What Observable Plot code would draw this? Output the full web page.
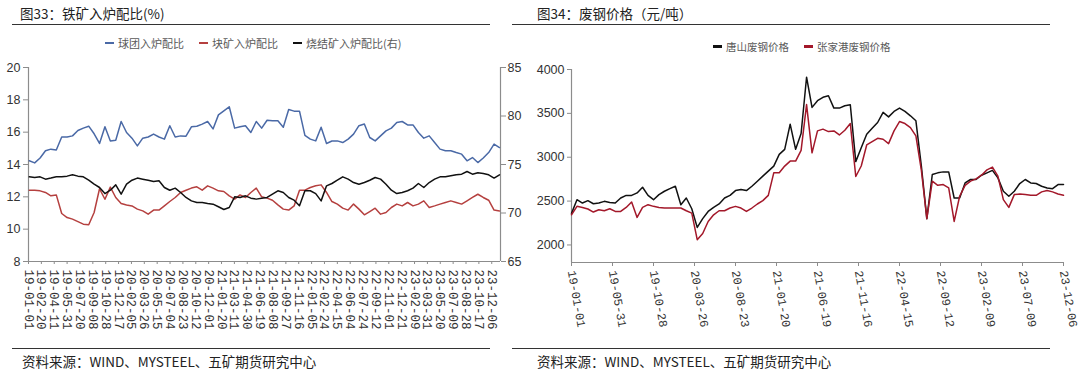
<!DOCTYPE html>
<html>
<head>
<meta charset="utf-8">
<script src="https://cdn.jsdelivr.net/npm/d3@7"></script>
<script src="https://cdn.jsdelivr.net/npm/@observablehq/plot@0.6"></script>
<style>
  body { margin: 0; background: #fff; }
  #root { position: relative; width: 1080px; height: 378px; overflow: hidden; font-family: "Noto Sans CJK SC", sans-serif; }
  .title { position: absolute; top: 3px; font-size: 13.5px; color: #222; white-space: nowrap; }
  .hline { position: absolute; height: 0; border-top: 1px solid #333; }
  .footer { position: absolute; top: 351px; font-size: 13.5px; color: #222; white-space: nowrap; }
  .legend { position: absolute; display: flex; align-items: center; color: #595959; white-space: nowrap; }
  .legend .item { display: flex; align-items: center; }
  .legend .sw { display: inline-block; width: 9px; height: 2.5px; margin-right: 4px; }
  .chart { position: absolute; top: 50px; }
</style>
</head>
<body>
<div id="root">
  <div class="title" style="left:20px">图33：铁矿入炉配比(%)</div>
  <div class="hline" style="left:12px;width:478px;top:24px"></div>
  <div class="title" style="left:537px">图34：废钢价格（元/吨）</div>
  <div class="hline" style="left:512px;width:538px;top:24px"></div>
  <div id="legendL" class="legend" style="left:105px;top:35px;font-size:11px"></div>
  <div id="legendR" class="legend" style="left:713px;top:39px;font-size:10.5px"></div>
  <div id="chartL" class="chart" style="left:0px"></div>
  <div id="chartR" class="chart" style="left:540px"></div>
  <div class="hline" style="left:12px;width:478px;top:348px"></div>
  <div class="hline" style="left:512px;width:538px;top:348px"></div>
  <div class="footer" style="left:22px">资料来源：WIND、MYSTEEL、五矿期货研究中心</div>
  <div class="footer" style="left:537px">资料来源：WIND、MYSTEEL、五矿期货研究中心</div>
</div>
<script>
// ---------- Chart 33: iron ore burden ratios (%) ----------
const leftSeriesNames = ["球团入炉配比", "块矿入炉配比", "烧结矿入炉配比(右)"];
const leftColors = ["#4a69a6", "#b5403f", "#111111"];
const leftStartDate = "2019-01-04"; // weekly samples, every 3 weeks
const pelletRatio = [14.23,14.1,14.4,14.85,14.95,14.9,15.7,15.7,15.77,16.1,16.25,16.37,15.9,15.3,16.33,15.46,15.5,16.66,15.98,15.63,15.15,15.63,15.7,15.88,15.7,15.57,16.4,15.7,15.77,15.75,16.33,16.37,16.5,16.66,16.2,17.07,17.32,17.57,16.25,16.33,16.4,15.98,16.66,16.25,16.74,16.7,16.7,16.3,17.4,17.3,17.3,15.8,15.57,15.46,16.3,15.3,15.45,15.46,15.36,15.57,15.88,16.4,16.5,15.67,15.46,15.77,16.08,16.25,16.6,16.66,16.45,16.45,15.98,15.63,15.77,15.36,14.95,14.85,14.85,14.74,14.64,14.23,14.43,14.12,14.4,14.74,15.26,15.05];
const lumpRatio = [12.41,12.41,12.37,12.27,12.06,12.12,10.97,10.72,10.62,10.47,10.31,10.27,11.03,12.5,11.85,12.6,11.96,11.59,11.5,11.44,11.24,11.13,10.93,11.18,11.18,11.44,11.71,11.96,12.27,12.41,12.54,12.62,12.41,12.68,12.54,12.37,12.33,12.06,11.86,12.12,11.96,12.27,12.54,12.0,11.92,11.79,11.5,11.24,11.18,11.44,12.41,12.41,12.58,12.68,12.74,12.27,11.71,11.55,11.3,11.18,11.55,11.24,10.89,11.09,11.3,10.93,11.03,11.34,11.55,11.44,11.65,11.44,11.55,11.75,11.34,11.44,11.55,11.65,11.75,11.65,11.55,11.75,11.96,12.16,11.96,11.79,11.18,11.13];
const sinterRatio = [73.73,73.66,73.73,73.49,73.6,73.73,73.73,73.8,73.94,73.8,73.73,73.38,72.97,72.63,72.0,72.35,72.9,71.94,72.97,73.38,73.6,73.49,73.38,73.25,73.32,72.63,72.35,72.56,72.11,71.6,71.25,71.08,71.08,70.98,70.91,70.64,70.36,70.57,71.67,71.6,71.77,71.53,71.43,71.53,71.6,71.94,72.29,72.11,71.6,71.32,70.75,72.29,72.29,72.0,71.25,72.8,73.04,73.38,73.73,73.49,73.14,72.97,73.14,73.38,73.66,73.49,72.97,72.35,72.0,72.11,72.29,72.56,73.04,72.63,73.14,73.49,73.73,73.73,73.83,73.94,74.0,74.28,74.0,74.14,74.07,73.94,73.6,73.94];
const leftYTicks = [8, 10, 12, 14, 16, 18, 20];
const rightYTicks = [65, 70, 75, 80, 85];
const leftTickLabels = ["19-01-01","19-02-20","19-04-11","19-05-31","19-07-20","19-09-08","19-10-28","19-12-17","20-02-05","20-03-26","20-05-15","20-07-04","20-08-23","20-10-12","20-12-01","21-01-20","21-03-11","21-04-30","21-06-19","21-08-08","21-09-27","21-11-16","22-01-05","22-02-24","22-04-15","22-06-04","22-07-24","22-09-12","22-11-01","22-12-21","23-02-09","23-03-31","23-05-20","23-07-09","23-08-28","23-10-17","23-12-06"];
const leftXRange = ["2019-01-01", "2024-01-09"];

// ---------- Chart 34: scrap steel prices (yuan/t) ----------
const rightSeriesNames = ["唐山废钢价格", "张家港废钢价格"];
const rightColors = ["#111111", "#a3182a"];
const rightStartDate = "2019-01-01"; // samples every 20 days
const tangshanScrap = [2360,2516,2478,2505,2470,2478,2497,2485,2478,2535,2565,2565,2593,2658,2565,2516,2574,2612,2642,2669,2459,2535,2413,2200,2300,2382,2428,2467,2535,2565,2620,2631,2620,2669,2727,2784,2841,2899,3033,3090,3377,3090,3270,3912,3568,3644,3683,3700,3560,3560,3587,3598,2950,3109,3262,3330,3396,3511,3460,3522,3560,3522,3472,3415,2900,2300,2803,2822,2833,2833,2535,2535,2707,2746,2746,2795,2822,2850,2765,2612,2555,2612,2700,2746,2707,2700,2669,2650,2642,2688,2688];
const zhangjiagangScrap = [2344,2440,2428,2410,2375,2402,2390,2413,2382,2382,2428,2490,2314,2428,2459,2440,2428,2421,2421,2421,2421,2390,2363,2060,2130,2268,2344,2390,2390,2421,2440,2421,2382,2421,2467,2505,2565,2822,2822,2899,2956,2956,3078,3600,3050,3300,3320,3292,3300,3254,3308,3384,2780,2900,3140,3178,3216,3205,3155,3300,3407,3384,3338,3243,2850,2300,2727,2680,2688,2650,2268,2555,2680,2727,2753,2795,2856,2887,2784,2516,2428,2574,2581,2574,2566,2566,2605,2620,2605,2581,2566];
const priceTicks = [2000, 2500, 3000, 3500, 4000];
const rightTickLabels = ["19-01-01","19-05-31","19-10-28","20-03-26","20-08-23","21-01-20","21-06-19","21-11-16","22-04-15","22-09-12","23-02-09","23-07-09","23-12-06"];
const rightXRange = ["2019-01-01", "2023-12-06"];
const priceRange = [1800, 4000];

// ---------- helpers ----------
const parseISO = d3.utcParse("%Y-%m-%d");
const parseTick = d3.utcParse("%y-%m-%d");
const fmtTick = d3.utcFormat("%y-%m-%d");
const axisColor = "#8c8c8c";
const labelColor = "#333";
const numFont = "'Liberation Sans Narrow', 'Liberation Sans', Arial, sans-serif";
const dateFont = "'Liberation Mono', 'DejaVu Sans Mono', monospace";

function legend(el, names, colors) {
  const root = document.getElementById(el);
  names.forEach((n, i) => {
    const it = document.createElement("span");
    it.className = "item";
    if (i > 0) it.style.marginLeft = "15px";
    const sw = document.createElement("span");
    sw.className = "sw";
    sw.style.background = colors[i];
    it.appendChild(sw);
    it.appendChild(document.createTextNode(n));
    root.appendChild(it);
  });
}
legend("legendL", leftSeriesNames, leftColors);
legend("legendR", rightSeriesNames, rightColors);

// Left chart
const L = [leftYTicks[0], leftYTicks[leftYTicks.length - 1]];
const R = [rightYTicks[0], rightYTicks[rightYTicks.length - 1]];
const toLeft = v => L[0] + (v - R[0]) * (L[1] - L[0]) / (R[1] - R[0]);
const toRight = v => R[0] + (v - L[0]) * (R[1] - R[0]) / (L[1] - L[0]);
const lStart = parseISO(leftStartDate);
const leftDates = pelletRatio.map((_, i) => d3.utcDay.offset(lStart, 21 * i));
const mk = (dates, vals, f = v => v) => vals.map((v, i) => ({date: dates[i], value: f(v)}));
const lDomain = leftXRange.map(parseISO);

const chartL = Plot.plot({
  width: 540, height: 295,
  marginLeft: 28, marginRight: 40, marginTop: 17, marginBottom: 84,
  style: {fontFamily: numFont, fontSize: "12px", color: labelColor, overflow: "visible", background: "transparent"},
  x: {type: "utc", domain: lDomain, label: null},
  y: {domain: L, label: null},
  marks: [
    Plot.axisY(leftYTicks, {anchor: "left", tickSize: 5, tickPadding: 3, stroke: axisColor, fill: labelColor, label: null, fontSize: 12.5}),
    Plot.axisY(rightYTicks.map(toLeft), {anchor: "right", tickSize: 5, tickPadding: 2, stroke: axisColor, fill: labelColor, label: null, fontSize: 12.5, tickFormat: d => Math.round(toRight(d))}),
    Plot.axisX(leftTickLabels.map(parseTick), {anchor: "bottom", tickRotate: 90, tickSize: 3, tickPadding: 5, stroke: axisColor, fill: labelColor, label: null, tickFormat: fmtTick, fontFamily: dateFont, fontSize: 12.5}),
    Plot.ruleY([L[0]], {stroke: axisColor, strokeWidth: 1.2}),
    Plot.ruleX(lDomain, {stroke: axisColor, strokeWidth: 1.2}),
    Plot.lineY(mk(leftDates, pelletRatio), {x: "date", y: "value", stroke: leftColors[0], strokeWidth: 1.5}),
    Plot.lineY(mk(leftDates, lumpRatio), {x: "date", y: "value", stroke: leftColors[1], strokeWidth: 1.5}),
    Plot.lineY(mk(leftDates, sinterRatio, toLeft), {x: "date", y: "value", stroke: leftColors[2], strokeWidth: 1.5})
  ]
});
document.getElementById("chartL").appendChild(chartL);

// Right chart
const rStart = parseISO(rightStartDate);
const rightDates = tangshanScrap.map((_, i) => d3.utcDay.offset(rStart, 20 * i));
const rDomain = rightXRange.map(parseISO);
const chartR = Plot.plot({
  width: 540, height: 295,
  marginLeft: 31, marginRight: 17, marginTop: 19, marginBottom: 83,
  style: {fontFamily: numFont, fontSize: "12px", color: labelColor, overflow: "visible", background: "transparent"},
  x: {type: "utc", domain: rDomain, label: null},
  y: {domain: priceRange, label: null},
  marks: [
    Plot.axisY(priceTicks, {anchor: "left", tickSize: 4, tickPadding: 3, stroke: axisColor, fill: labelColor, label: null, fontSize: 12.5, tickFormat: d => String(d)}),
    Plot.axisX(rightTickLabels.map(parseTick), {anchor: "bottom", tickRotate: 80, tickSize: 4, tickPadding: 4, stroke: axisColor, fill: labelColor, label: null, tickFormat: fmtTick, fontFamily: dateFont, fontSize: 12}),
    Plot.ruleY([priceRange[0]], {stroke: axisColor, strokeWidth: 1.2}),
    Plot.ruleX([rDomain[0]], {stroke: axisColor, strokeWidth: 1.2}),
    Plot.lineY(mk(rightDates, tangshanScrap), {x: "date", y: "value", stroke: rightColors[0], strokeWidth: 1.5}),
    Plot.lineY(mk(rightDates, zhangjiagangScrap), {x: "date", y: "value", stroke: rightColors[1], strokeWidth: 1.5})
  ]
});
document.getElementById("chartR").appendChild(chartR);
</script>
</body>
</html>
